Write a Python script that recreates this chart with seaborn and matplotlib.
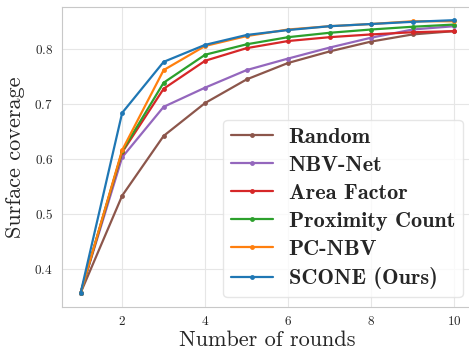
import pandas as pd
import seaborn as sns
import matplotlib.pyplot as plt

rounds = [1, 2, 3, 4, 5, 6, 7, 8, 9, 10]
methods = ['Random', 'NBV-Net', 'Area Factor', 'Proximity Count', 'PC-NBV', 'SCONE (Ours)']
colors = ['#8c564b', '#9467bd', '#d62728', '#2ca02c', '#ff7f0e', '#1f77b4']

random_cov = [0.356, 0.533, 0.642, 0.702, 0.745, 0.775, 0.796, 0.814, 0.827, 0.833]
nbvnet_cov = [0.356, 0.603, 0.695, 0.730, 0.762, 0.783, 0.803, 0.821, 0.836, 0.842]
area_cov = [0.356, 0.612, 0.728, 0.779, 0.802, 0.815, 0.822, 0.827, 0.831, 0.833]
prox_cov = [0.356, 0.614, 0.739, 0.790, 0.809, 0.822, 0.830, 0.836, 0.841, 0.845]
pcnbv_cov = [0.356, 0.616, 0.762, 0.806, 0.824, 0.836, 0.842, 0.846, 0.851, 0.851]
scone_cov = [0.356, 0.684, 0.777, 0.808, 0.826, 0.835, 0.842, 0.846, 0.850, 0.853]

all_cov = [random_cov, nbvnet_cov, area_cov, prox_cov, pcnbv_cov, scone_cov]
df = pd.DataFrame({
    'Number of rounds': rounds * len(methods),
    'Surface coverage': [v for cov in all_cov for v in cov],
    'Method': [m for m in methods for _ in rounds],
})

sns.set_style('whitegrid', {'axes.edgecolor': '#c8c8c8', 'grid.color': '#e6e6e6'})
plt.rcParams['font.family'] = ['cmr10', 'DejaVu Serif']
plt.rcParams['axes.formatter.use_mathtext'] = True
plt.rcParams['axes.unicode_minus'] = False

fig = plt.figure(figsize=(4.69, 3.49), dpi=100)
# the original figure is cropped on the right, so the axes run past the edge
ax = fig.add_axes([0.1322, 0.1203, 0.8757, 0.8596])

sns.lineplot(data=df, x='Number of rounds', y='Surface coverage', hue='Method',
             hue_order=methods, palette=colors, marker='o', markersize=3.5,
             markeredgewidth=0, linewidth=1.6, ax=ax)

ax.set_xlim(0.55, 10.45)
ax.set_ylim(0.330, 0.877)
ax.set_xticks([2, 4, 6, 8, 10])
ax.set_yticks([0.4, 0.5, 0.6, 0.7, 0.8])
ax.spines['right'].set_visible(False)
ax.tick_params(axis='x', labelsize=9.5, pad=2)
ax.tick_params(axis='y', labelsize=9.5, pad=3)
ax.set_xlabel('Number of rounds', fontsize=16, labelpad=2)
ax.set_ylabel('Surface coverage', fontsize=16, labelpad=7)

handles, labels = ax.get_legend_handles_labels()
ax.legend(handles, labels, loc='lower right', bbox_to_anchor=(0.976, 0.033),
          borderaxespad=0, prop={'family': 'cmb10', 'size': 16},
          handlelength=1.9, handletextpad=0.7, labelspacing=0.38,
          borderpad=0.35, frameon=True, framealpha=0.8, edgecolor='#e0e0e0')

fig.savefig('out.png', dpi=100)
